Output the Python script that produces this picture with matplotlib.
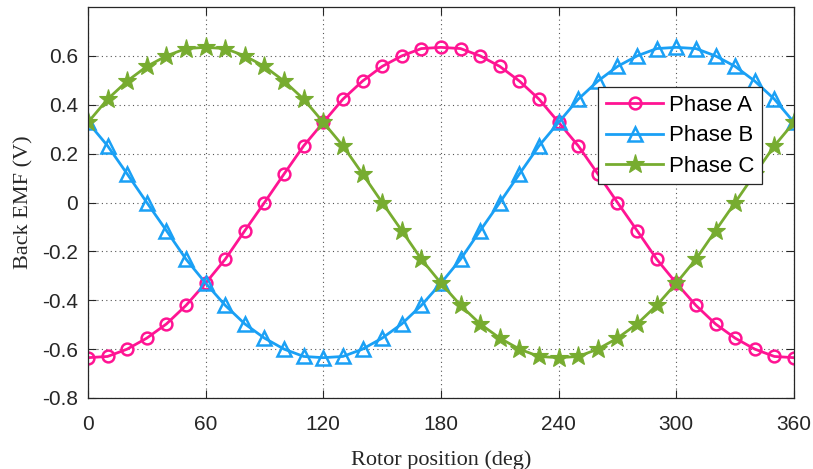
import matplotlib
matplotlib.use("Agg")
from matplotlib import pyplot as plt

# rotor position in degrees, one sample every 10 deg
angle = [0, 10, 20, 30, 40, 50, 60, 70, 80, 90, 100, 110, 120, 130, 140, 150, 160, 170, 180,
         190, 200, 210, 220, 230, 240, 250, 260, 270, 280, 290, 300, 310, 320, 330, 340, 350, 360]

phase_a = [-0.635, -0.630, -0.600, -0.555, -0.497, -0.421, -0.330, -0.232, -0.115, 0.000,
           0.117, 0.232, 0.328, 0.423, 0.497, 0.557, 0.600, 0.630, 0.635,
           0.630, 0.600, 0.557, 0.497, 0.423, 0.328, 0.232, 0.117, 0.000,
           -0.115, -0.232, -0.330, -0.421, -0.497, -0.555, -0.600, -0.630, -0.635]

phase_b = [0.328, 0.232, 0.117, 0.000, -0.115, -0.232, -0.330, -0.421, -0.497, -0.555,
           -0.600, -0.630, -0.635, -0.630, -0.600, -0.555, -0.497, -0.421, -0.330,
           -0.232, -0.115, 0.000, 0.117, 0.232, 0.328, 0.423, 0.497, 0.557,
           0.600, 0.630, 0.635, 0.630, 0.600, 0.557, 0.497, 0.423, 0.328]

phase_c = [0.328, 0.423, 0.497, 0.557, 0.600, 0.630, 0.635, 0.630, 0.600, 0.557,
           0.497, 0.423, 0.328, 0.232, 0.117, 0.000, -0.115, -0.232, -0.330,
           -0.421, -0.497, -0.555, -0.600, -0.630, -0.635, -0.630, -0.600, -0.555,
           -0.497, -0.421, -0.330, -0.232, -0.115, 0.000, 0.117, 0.232, 0.328]

x_ticks = [0, 60, 120, 180, 240, 300, 360]
y_ticks = [-0.8, -0.6, -0.4, -0.2, 0, 0.2, 0.4, 0.6]
y_tick_labels = ["-0.8", "-0.6", "-0.4", "-0.2", "0", "0.2", "0.4", "0.6"]

PINK = "#FF1493"
BLUE = "#1AA0F5"
GREEN = "#77AC30"

plt.rcParams["font.family"] = ["Liberation Sans", "DejaVu Sans"]

fig = plt.figure(figsize=(8.13, 4.69), dpi=100)
ax = fig.add_axes([0.1082, 0.1514, 0.8684, 0.8336])

ax.plot(angle, phase_a, color=PINK, lw=2, marker="o", ms=8.5, mfc="none",
        mew=1.8, label="Phase A")
ax.plot(angle, phase_b, color=BLUE, lw=2, marker="^", ms=9.5, mfc="none",
        mew=1.8, label="Phase B")
ax.plot(angle, phase_c, color=GREEN, lw=2, marker="*", ms=14, mfc=GREEN,
        mew=0.8, label="Phase C")

ax.set_xlim(0, 360)
ax.set_ylim(-0.8, 0.8)
ax.set_xticks(x_ticks)
ax.set_yticks(y_ticks)
ax.set_yticklabels(y_tick_labels)
ax.tick_params(direction="in", top=True, right=True, length=6, width=0.8,
               labelsize=15, colors="#262626", pad=7)
ax.tick_params(axis="x", pad=12)
for s in ax.spines.values():
    s.set_color("#262626")
    s.set_linewidth(0.9)
ax.grid(True, linestyle=(0, (1, 3)), color="#555555", linewidth=0.8)

ax.set_xlabel("Rotor position (deg)", family="Liberation Serif", fontsize=16,
              color="#262626", labelpad=12)
ax.set_ylabel("Back EMF (V)", family="Liberation Serif", fontsize=16,
              color="#262626", labelpad=6)

leg = ax.legend(loc="upper right", bbox_to_anchor=(0.955, 0.795), borderaxespad=0,
                fontsize=16, fancybox=False, framealpha=1, edgecolor="#262626",
                handlelength=2.6, borderpad=0.35, labelspacing=0.42, handletextpad=0.25)
leg.get_frame().set_linewidth(0.9)

fig.savefig("out.png", dpi=100)
